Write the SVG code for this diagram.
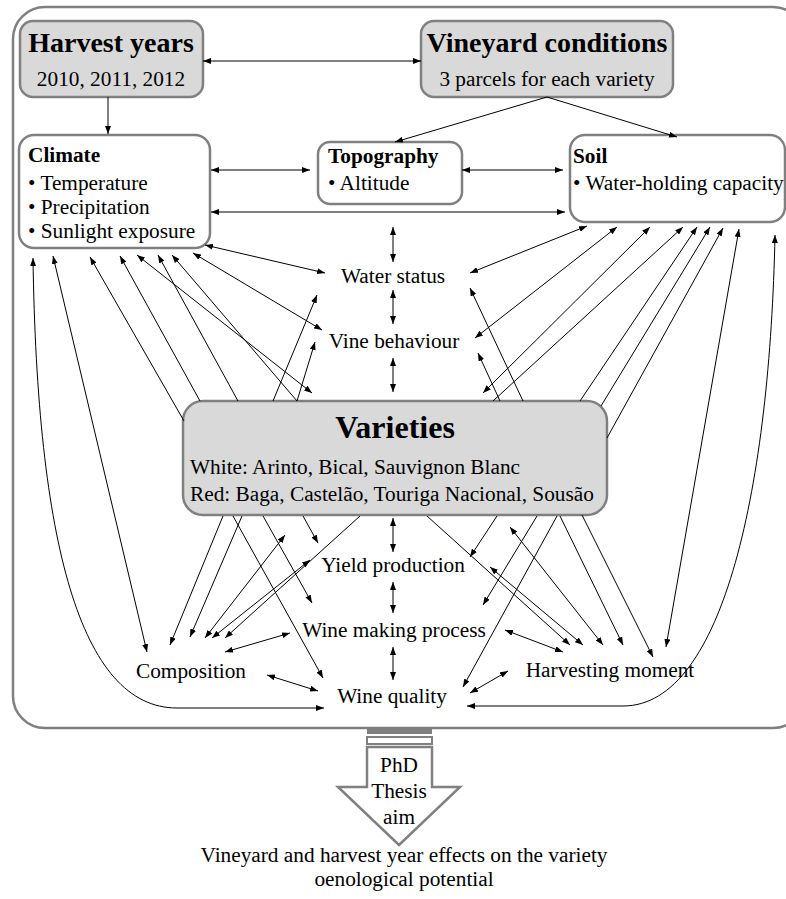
<svg xmlns="http://www.w3.org/2000/svg" width="786" height="899" viewBox="0 0 786 899" font-family="'Liberation Serif', 'DejaVu Serif', serif">
<style>
text{font-family:'Liberation Serif','DejaVu Serif',serif;fill:#000}
.t{font-size:21.3px}
.b{font-weight:bold}
.box{stroke:#808080;stroke-width:2.5}
.g{fill:#d9d9d9}
.w{fill:#fff}
.c line,.c path{stroke:#000;stroke-width:1;fill:none}
.d{marker-start:url(#ah);marker-end:url(#ah)}
.e{marker-end:url(#ah)}
.s{marker-start:url(#ah)}
</style>
<defs>
<marker id="ah" viewBox="0 0 8 6" refX="8" refY="3" markerWidth="8" markerHeight="6" markerUnits="userSpaceOnUse" orient="auto-start-reverse"><path d="M0,0 L8,3 L0,6 z" fill="#000"/></marker>
</defs>
<rect width="786" height="899" fill="#fff"/>
<g id="outer"><rect class="box" x="13" y="7" width="792" height="721" rx="32" fill="none"/></g>

<g id="harvest-years"><rect class="box g" x="20" y="21" width="183" height="76" rx="13"/>
<text class="b" x="111" y="52" text-anchor="middle" font-size="28">Harvest years</text>
<text class="t" x="111" y="86" text-anchor="middle">2010, 2011, 2012</text></g>

<g id="vineyard-conditions"><rect class="box g" x="421" y="21" width="252" height="76" rx="13"/>
<text class="b" x="547" y="52" text-anchor="middle" font-size="28">Vineyard conditions</text>
<text class="t" x="547" y="86" text-anchor="middle">3 parcels for each variety</text></g>

<g id="climate"><rect class="box w" x="19" y="135" width="191" height="113" rx="15"/>
<text class="t b" x="28" y="162">Climate</text>
<text class="t" x="28" y="190">• Temperature</text>
<text class="t" x="28" y="214">• Precipitation</text>
<text class="t" x="28" y="238">• Sunlight exposure</text></g>

<g id="topography"><rect class="box w" x="318" y="142" width="144" height="62" rx="12"/>
<text class="t b" x="328" y="163">Topography</text>
<text class="t" x="328" y="190">• Altitude</text></g>

<g id="soil"><rect class="box w" x="570" y="135" width="215" height="87" rx="15"/>
<text class="t b" x="573" y="163">Soil</text>
<text class="t" x="573" y="190">• Water-holding capacity</text></g>

<g id="varieties"><rect class="box g" x="183" y="401" width="424" height="114" rx="20"/>
<text class="b" x="395" y="438" text-anchor="middle" font-size="32">Varieties</text>
<text class="t" x="190" y="474">White: Arinto, Bical, Sauvignon Blanc</text>
<text class="t" x="190" y="501">Red: Baga, Castelão, Touriga Nacional, Sousão</text></g>

<g id="water-status"><text class="t" x="393" y="283" text-anchor="middle">Water status</text></g>
<g id="vine-behaviour"><text class="t" x="394" y="348" text-anchor="middle">Vine behaviour</text></g>
<g id="yield-production"><text class="t" x="393" y="572" text-anchor="middle">Yield production</text></g>
<g id="wine-making"><text class="t" x="394" y="637" text-anchor="middle">Wine making process</text></g>
<g id="wine-quality"><text class="t" x="392" y="703" text-anchor="middle">Wine quality</text></g>
<g id="composition"><text class="t" x="191" y="678" text-anchor="middle">Composition</text></g>
<g id="harvesting-moment"><text class="t" x="610" y="677" text-anchor="middle">Harvesting moment</text></g>

<g id="thesis-arrow">
<rect x="367" y="729" width="65" height="5" fill="#808080"/>
<rect x="367" y="737" width="65" height="7" fill="#fff" stroke="#808080" stroke-width="2"/>
<polygon class="box w" points="367,747 432,747 432,787 460,787 399,845 338,787 367,787"/>
<text class="t" x="399" y="772" text-anchor="middle">PhD</text>
<text class="t" x="399" y="798" text-anchor="middle">Thesis</text>
<text class="t" x="399" y="824" text-anchor="middle">aim</text>
</g>
<g id="conclusion">
<text class="t" x="404" y="862" text-anchor="middle">Vineyard and harvest year effects on the variety</text>
<text class="t" x="404" y="886" text-anchor="middle">oenological potential</text>
</g>

<g id="connectors" class="c">
<line class="d" x1="203" y1="61" x2="421" y2="61"/>
<line class="e" x1="108" y1="97" x2="108" y2="134"/>
<line class="e" x1="547" y1="97" x2="395" y2="142"/>
<line class="e" x1="547" y1="97" x2="677" y2="137"/>
<line class="d" x1="211" y1="170" x2="310" y2="170"/>
<line class="d" x1="462" y1="170" x2="563" y2="170"/>
<line class="d" x1="211" y1="212" x2="565" y2="212"/>
<line class="d" x1="393" y1="227" x2="393" y2="262"/>
<line class="d" x1="393" y1="290" x2="393" y2="324"/>
<line class="d" x1="393" y1="358" x2="393" y2="392"/>
<line class="d" x1="393" y1="518" x2="393" y2="552"/>
<line class="d" x1="393" y1="582" x2="393" y2="613"/>
<line class="d" x1="393" y1="647" x2="393" y2="680"/>

<line class="d" x1="205" y1="245" x2="325" y2="273"/>
<line class="d" x1="193" y1="253" x2="322" y2="330"/>
<line class="d" x1="137" y1="255" x2="312" y2="393"/>
<line class="s" x1="172" y1="255" x2="297" y2="401"/>
<line class="s" x1="158" y1="255" x2="238" y2="401"/>
<line class="s" x1="120" y1="256" x2="200" y2="401"/>
<line class="s" x1="90" y1="257" x2="184" y2="421"/>
<line class="d" x1="53" y1="256" x2="147" y2="652"/>
<path class="d" d="M33,258 C37,540 80,708 177,708 L324,708"/>
<line class="e" x1="273" y1="401" x2="317" y2="295"/>
<line class="e" x1="297" y1="401" x2="315" y2="342"/>

<line class="d" x1="587" y1="226" x2="470" y2="273"/>
<line class="d" x1="617" y1="227" x2="475" y2="338"/>
<line class="d" x1="650" y1="227" x2="483" y2="393"/>
<line class="s" x1="683" y1="227" x2="493" y2="401"/>
<line class="s" x1="697" y1="227" x2="580" y2="401"/>
<line class="s" x1="710" y1="227" x2="601" y2="406"/>
<line class="s" x1="723" y1="228" x2="607" y2="438"/>
<line class="d" x1="739" y1="229" x2="666" y2="647"/>
<path class="d" d="M775,235 C770,480 725,706 623,706 L467,706"/>
<line class="e" x1="523" y1="401" x2="470" y2="288"/>
<line class="e" x1="500" y1="401" x2="478" y2="353"/>

<line class="e" x1="223" y1="516" x2="170" y2="645"/>
<line class="e" x1="242" y1="516" x2="190" y2="637"/>
<line class="e" x1="233" y1="516" x2="323" y2="678"/>
<line class="e" x1="263" y1="516" x2="312" y2="603"/>
<line class="d" x1="205" y1="638" x2="285" y2="535"/>
<line class="e" x1="303" y1="516" x2="318" y2="543"/>
<line class="e" x1="360" y1="516" x2="225" y2="638"/>
<line class="d" x1="310" y1="560" x2="212" y2="638"/>
<line class="d" x1="225" y1="652" x2="290" y2="633"/>
<line class="d" x1="267" y1="675" x2="318" y2="691"/>

<line class="e" x1="427" y1="516" x2="570" y2="645"/>
<line class="d" x1="490" y1="567" x2="583" y2="645"/>
<line class="e" x1="497" y1="516" x2="470" y2="557"/>
<line class="d" x1="510" y1="527" x2="603" y2="645"/>
<line class="e" x1="537" y1="516" x2="483" y2="605"/>
<line class="e" x1="557" y1="516" x2="463" y2="687"/>
<line class="e" x1="560" y1="516" x2="623" y2="645"/>
<line class="e" x1="582" y1="515" x2="653" y2="657"/>
<line class="d" x1="505" y1="630" x2="563" y2="652"/>
<line class="d" x1="470" y1="693" x2="508" y2="671"/>
</g>
</svg>
